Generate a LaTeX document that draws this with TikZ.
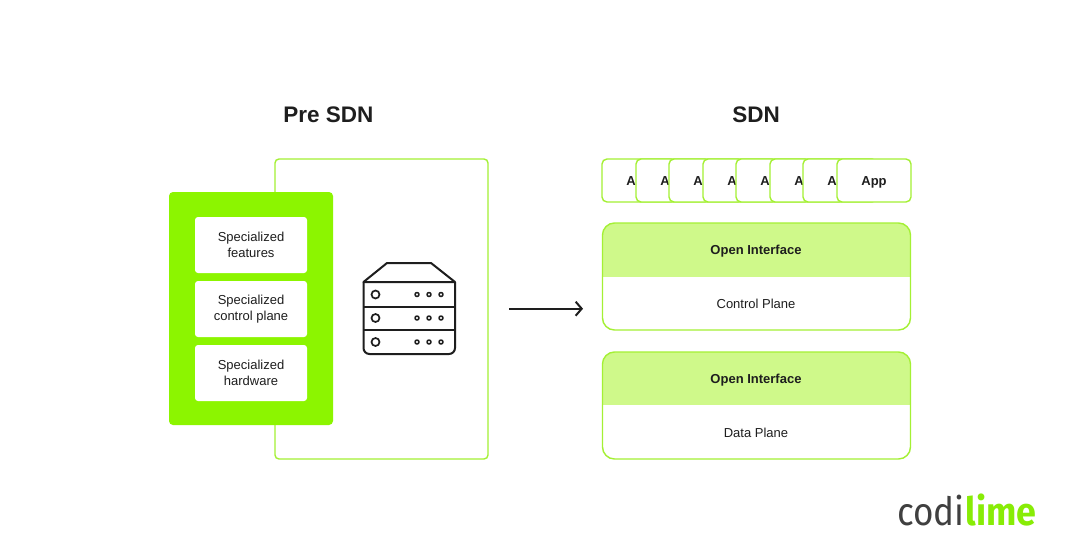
\documentclass[tikz,border=0pt]{standalone}
\usepackage{fontspec}
\setmainfont{Liberation Sans}
\newfontfamily\logofont{Fira Sans}[FakeStretch=0.9]
\newfontfamily\logobold{Fira Sans}[UprightFont=* Bold,FakeStretch=0.92]
\usetikzlibrary{arrows.meta,calc}
\definecolor{limeline}{HTML}{A4F034}
\definecolor{limefill}{HTML}{8CF500}
\definecolor{limeband}{HTML}{CFF98A}
\definecolor{limelogo}{HTML}{88EC06}
\definecolor{ink}{HTML}{1E1E1E}
\tikzset{
  x=1pt,y=-1pt,
  title/.style={font=\bfseries\fontsize{22.5}{27}\selectfont,text=ink,inner sep=0pt},
  frame/.style={draw=limeline,line width=1.4pt,rounded corners=4pt,fill=white,inner sep=0pt},
  greenbox/.style={fill=limefill,rounded corners=4pt,inner sep=0pt,minimum width=164pt,minimum height=233pt},
  spec/.style={fill=white,rounded corners=3pt,inner sep=0pt,minimum width=112pt,minimum height=56pt,align=center,text=ink,font=\fontsize{13}{16}\selectfont},
  app/.style={draw=limeline,line width=1.4pt,rounded corners=5pt,fill=white,inner sep=0pt,minimum width=74pt,minimum height=43pt,text=ink,text height=9.5pt,text depth=0pt,font=\bfseries\fontsize{13}{15}\selectfont},
  plane/.style={draw=limeline,line width=1.4pt,rounded corners=12pt,inner sep=0pt,minimum width=308pt,minimum height=107pt},
  planetext/.style={inner sep=0pt,text=ink,text height=9.5pt,text depth=0pt,font=\fontsize{13}{15}\selectfont},
  bandtext/.style={inner sep=0pt,text=ink,text height=9.5pt,text depth=0pt,font=\bfseries\fontsize{13}{15}\selectfont},
  srv/.style={draw=ink,line width=2pt,line join=round},
}
\begin{document}
\begin{tikzpicture}
\useasboundingbox[fill=white] (0,0) rectangle (1080,560);
\node[title] (pre) at (328.5,115) {Pre SDN};
\node[title] (sdn) at (756,115) {SDN};
\node[frame,minimum width=213pt,minimum height=300pt] (outer) at (381.5,309) {};
\node[greenbox] (chip) at (251,308.5) {};
\node[spec] (s1) at (251,245) {Specialized\\features};
\node[spec] (s2) at (251,309) {Specialized\\control plane};
\node[spec] (s3) at (251,373) {Specialized\\hardware};
% server icon
\draw[srv] (363.5,282) -- (387,263) -- (431,263) -- (455,282) -- cycle;
\draw[srv,rounded corners=6pt] (363.5,282) -- (363.5,354) -- (455,354) -- (455,282);
\draw[srv] (363.5,306.5) -- (455,306.5) (363.5,330) -- (455,330);
\foreach \y in {294.5,318,342}{
  \draw[srv,line width=1.7pt] (375.5,\y) circle (4);
  \foreach \x in {417,429,441} \draw[srv,line width=1.5pt] (\x,\y) circle (2);
}
% arrow
\coordinate (from) at (509,308.7);
\coordinate (to) at (583,308.7);
\draw[-{Straight Barb[length=6pt,width=14pt,line width=2pt]},line width=2pt,draw=ink] (from) -- (to);
% apps
\foreach \x/\n in {639/a1,673/a2,706/a3,740/a4,773/a5,807/a6,840/a7,874/a8}
  \node[app] (\n) at (\x,180.5) {App};
% planes
\fill[white,rounded corners=12pt] (603,223) rectangle (910,330);
\begin{scope}
\clip[rounded corners=12pt] (603,223) rectangle (910,330);
\fill[limeband] (603,223) rectangle (910,277);
\end{scope}
\node[plane] (cp) at (756.5,276.5) {};
\fill[white,rounded corners=12pt] (603,352) rectangle (910,459);
\begin{scope}
\clip[rounded corners=12pt] (603,352) rectangle (910,459);
\fill[limeband] (603,352) rectangle (910,405);
\end{scope}
\node[plane] (dp) at (756.5,405.5) {};
\node[bandtext] (oi1) at (756,249.3) {Open Interface};
\node[planetext] (cpt) at (756,303.5) {Control Plane};
\node[bandtext] (oi2) at (756,378.3) {Open Interface};
\node[planetext] (dpt) at (756,432.5) {Data Plane};
% logo
\node[inner sep=0pt,anchor=base west] (logo) at (897,525) {\fontsize{39}{40}\selectfont\textcolor{ink!85!white}{\logofont codi}\kern1pt\textcolor{limelogo}{\logobold lime}};
\end{tikzpicture}
\end{document}
